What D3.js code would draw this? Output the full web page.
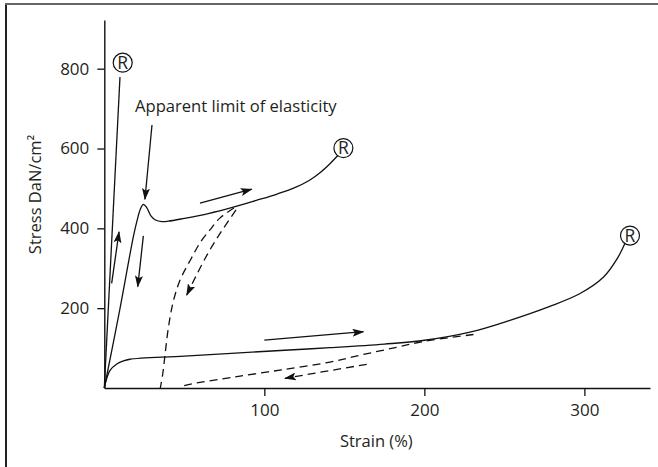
<!DOCTYPE html>
<html>
<head>
<meta charset="utf-8">
<script src="https://cdn.jsdelivr.net/npm/d3@7"></script>
<style>
  html, body { margin: 0; padding: 0; background: #fff; }
  svg { display: block; }
  text { font-family: "Open Sans", "Noto Sans", sans-serif; fill: #231f20; }
</style>
</head>
<body>
<svg id="chart" width="658" height="467"></svg>
<script>
// ---- data (strain %, stress DaN/cm2) ----
const xTicks = [100, 200, 300];
const yTicks = [200, 400, 600, 800];
const xLabel = "Strain (%)";
const yLabel = "Stress DaN/cm²";
const annotationText = "Apparent limit of elasticity";

// steep (brittle) curve
const curveSteep = [[0, 0], [9.8, 779]];
// curve with yield point
const curveYield = [[0, 0], [9.8, 199], [18.1, 378], [20.5, 420], [22.5, 448], [24.4, 460], [26.5, 452],
  [29, 432], [32, 421], [36, 417], [40, 418], [50, 425], [65, 437], [80.6, 453], [95, 470], [108, 486],
  [119, 502], [128, 520], [135, 540], [141, 562], [146.5, 585]];
// elastomer-like curve
const curveSoft = [[0, 0], [1, 17], [3.6, 44], [7.8, 60], [12, 68], [16, 72], [50, 80], [110, 94], [141, 101],
  [175, 110], [199, 119], [228.5, 140], [253, 169], [278, 204], [297, 236], [312, 278], [320.5, 324], [325.5, 364]];
// unloading (dashed) curves
const dashedA = [[81, 451], [72, 425], [66, 396], [60, 365], [54, 322], [47.5, 272], [43, 215], [40, 150], [38, 85], [36.5, 35], [35, 0]];
const dashedB = [[230.7, 134], [200, 117], [182.7, 102], [161.9, 84], [141, 65], [109.8, 45], [80.6, 27], [59.8, 14], [50, 6], [47.3, 0]];

// rupture markers
const ruptures = [[11.5, 815], [149.4, 601], [328.5, 382]];

// arrows [x1, y1, x2, y2] in data units
const solidArrows = [
  [4.6, 262, 9.2, 391],
  [24.4, 381, 20.9, 254],
  [29.8, 659, 25.4, 473],
  [59.8, 463, 92.1, 498],
  [100, 120, 161.9, 141]
];
const dashedArrowA = [[82.3, 446], [66, 346], [51.5, 233]];
const dashedArrowB = [[164, 59.4], [112.9, 24.3]];

// ---- layout ----
const svg = d3.select("#chart");
const x = d3.scaleLinear().domain([0, 341]).range([104.3, 650]);
const y = d3.scaleLinear().domain([0, 922]).range([388, 20]);

// frame (left and top border only)
svg.append("line").attr("x1", 6).attr("x2", 6).attr("y1", 3).attr("y2", 467)
  .attr("stroke", "#222").attr("stroke-width", 2);
svg.append("line").attr("x1", 5).attr("x2", 658).attr("y1", 4).attr("y2", 4)
  .attr("stroke", "#666").attr("stroke-width", 2);

// arrow marker
const defs = svg.append("defs");
defs.append("marker").attr("id", "ah")
  .attr("markerUnits", "userSpaceOnUse")
  .attr("viewBox", "0 0 12 8").attr("markerWidth", 12).attr("markerHeight", 8)
  .attr("refX", 11).attr("refY", 4).attr("orient", "auto")
  .append("path").attr("d", "M0,0 L12,4 L0,8 L2.5,4 Z").attr("fill", "#111").attr("stroke", "none");

// axes
const xAxis = d3.axisBottom(x).tickValues(xTicks).tickSize(8).tickPadding(8).tickSizeOuter(0);
const yAxis = d3.axisLeft(y).tickValues(yTicks).tickSize(7).tickPadding(8).tickSizeOuter(0);

const gx = svg.append("g").attr("transform", `translate(0,${y(0)})`).call(xAxis);
const gy = svg.append("g").attr("transform", `translate(${x(0)},0)`).call(yAxis);
[gx, gy].forEach(g => {
  g.select(".domain").attr("stroke", "#111").attr("stroke-width", 1.4);
  g.selectAll(".tick line").attr("stroke", "#111").attr("stroke-width", 1.3);
  g.selectAll(".tick text").attr("font-size", 17).attr("font-family", '"Open Sans", sans-serif').attr("fill", "#231f20");
});

// axis labels
svg.append("text").attr("x", x(170)).attr("y", 447).attr("text-anchor", "middle")
  .attr("font-size", 16.5).text(xLabel);
svg.append("text").attr("transform", `translate(41,${y(485)}) rotate(-90)`).attr("text-anchor", "middle")
  .attr("font-size", 16.5).text(yLabel);

// curves
const line = d3.line().x(d => x(d[0])).y(d => y(d[1]));
const smooth = d3.line().x(d => x(d[0])).y(d => y(d[1])).curve(d3.curveCatmullRom.alpha(0.5));

svg.append("path").attr("d", line(curveSteep)).attr("fill", "none").attr("stroke", "#111").attr("stroke-width", 1.3);
svg.append("path").attr("d", smooth(curveYield)).attr("fill", "none").attr("stroke", "#111").attr("stroke-width", 1.3);
svg.append("path").attr("d", smooth(curveSoft)).attr("fill", "none").attr("stroke", "#111").attr("stroke-width", 1.3);
svg.append("path").attr("d", smooth(dashedA)).attr("fill", "none").attr("stroke", "#111").attr("stroke-width", 1.3)
  .attr("stroke-dasharray", "8,5");
svg.append("path").attr("d", smooth(dashedB)).attr("fill", "none").attr("stroke", "#111").attr("stroke-width", 1.3)
  .attr("stroke-dasharray", "8,5");

// arrows
solidArrows.forEach(a => {
  svg.append("line").attr("x1", x(a[0])).attr("y1", y(a[1])).attr("x2", x(a[2])).attr("y2", y(a[3]))
    .attr("stroke", "#111").attr("stroke-width", 1.3).attr("marker-end", "url(#ah)");
});
svg.append("path").attr("d", d3.line().x(d => x(d[0])).y(d => y(d[1])).curve(d3.curveNatural)(dashedArrowA))
  .attr("fill", "none").attr("stroke", "#111").attr("stroke-width", 1.3).attr("stroke-dasharray", "8,5")
  .attr("marker-end", "url(#ah)");
svg.append("path").attr("d", line(dashedArrowB))
  .attr("fill", "none").attr("stroke", "#111").attr("stroke-width", 1.3).attr("stroke-dasharray", "8,5")
  .attr("marker-end", "url(#ah)");

// rupture markers
const r = svg.append("g").selectAll("g").data(ruptures).join("g")
  .attr("transform", d => `translate(${x(d[0])},${y(d[1])})`);
r.append("circle").attr("r", 9.5).attr("fill", "#fff").attr("stroke", "#111").attr("stroke-width", 1.2);
r.append("text").attr("text-anchor", "middle").attr("y", 6.3).attr("font-size", 17.5).text("R");

// annotation
svg.append("text").attr("x", 135).attr("y", 112).attr("font-size", 16.6).text(annotationText);
</script>
</body>
</html>
